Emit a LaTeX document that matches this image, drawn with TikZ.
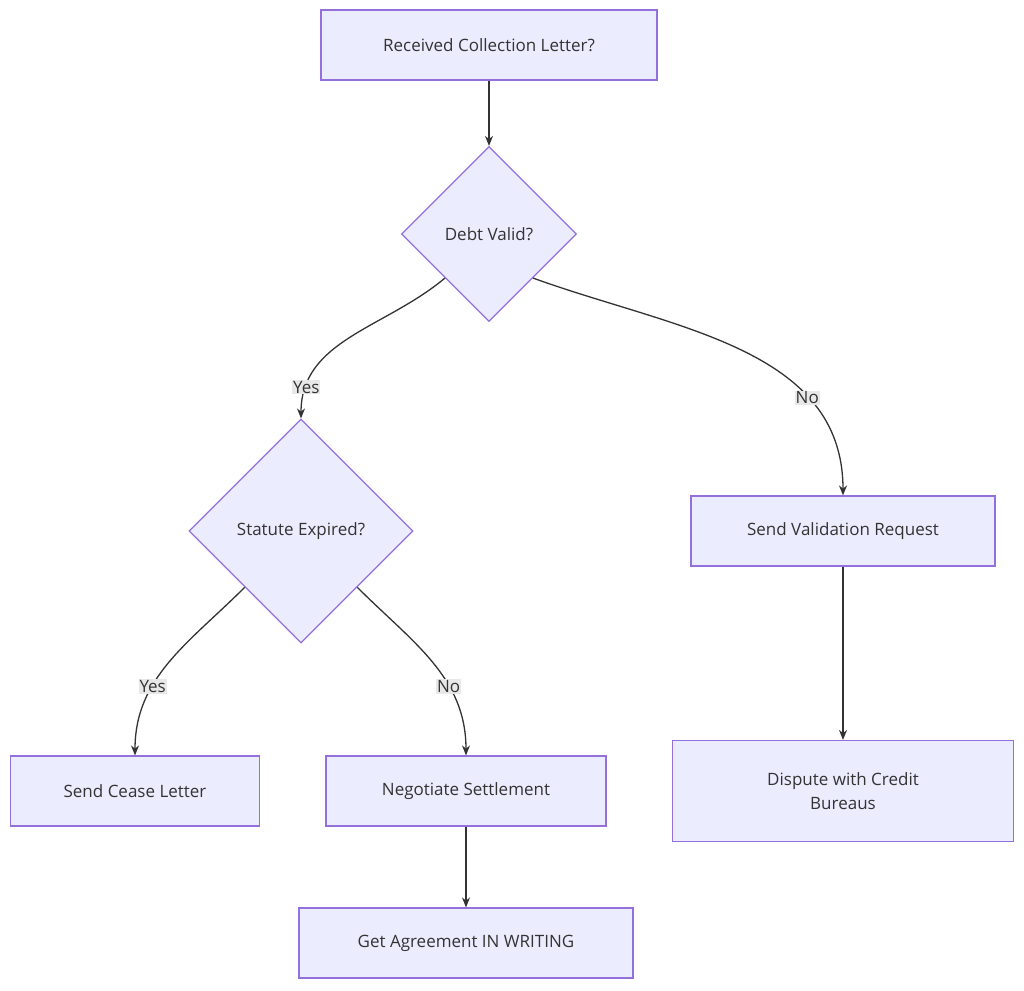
\documentclass[tikz,border=0pt]{standalone}
\usepackage{fontspec}
\setmainfont{Open Sans}
\usetikzlibrary{shapes.geometric,arrows.meta}
\definecolor{boxfill}{HTML}{ECECFF}
\definecolor{boxline}{HTML}{9370DB}
\definecolor{edgeline}{HTML}{333333}
\begin{document}
\begin{tikzpicture}[x=1pt, y=-1pt,
    every node/.style={font=\fontsize{17}{24}\selectfont, text=edgeline},
    box/.style={draw=boxline, fill=boxfill, line width=1.2pt, minimum height=70pt, inner sep=0pt},
    decide/.style={diamond, draw=boxline, fill=boxfill, line width=1.2pt, aspect=1, inner sep=0pt},
    flow/.style={draw=edgeline, line width=1.3pt, -{Stealth[length=10pt, width=8pt]}},
    tag/.style={fill=black!9, inner sep=1pt}]
    \useasboundingbox (0,0) rectangle (1024,990);

    \node[box, minimum width=336pt] (letter) at (489,45) {Received Collection Letter?};
    \node[decide, minimum size=175pt] (valid) at (489,234) {Debt Valid?};
    \node[decide, minimum size=224pt] (statute) at (301,531) {Statute Expired?};
    \node[box, minimum width=304pt] (request) at (843,531) {Send Validation Request};
    \node[box, minimum width=249pt] (cease) at (135,791) {Send Cease Letter};
    \node[box, minimum width=280pt] (settle) at (466,791) {Negotiate Settlement};
    \node[box, minimum width=341pt, minimum height=101pt, align=center] (dispute) at (843,791) {Dispute with Credit\\Bureaus};
    \node[box, minimum width=334pt] (writing) at (466,943) {Get Agreement IN WRITING};

    \draw[flow] (letter) -- (valid);
    \draw[flow] (valid.south west) ++(0,0) to[out=-140, in=90] node[tag, pos=0.85] {Yes} (statute.north);
    \draw[flow] (valid.south east) to[out=-20, in=90] node[tag, pos=0.72] {No} (request.north);
    \draw[flow] (statute.south west) to[out=-135, in=90] node[tag, pos=0.65] {Yes} (cease.north);
    \draw[flow] (statute.south east) to[out=-45, in=90] node[tag, pos=0.65] {No} (settle.north);
    \draw[flow] (request) -- (dispute);
    \draw[flow] (settle) -- (writing);
\end{tikzpicture}
\end{document}
